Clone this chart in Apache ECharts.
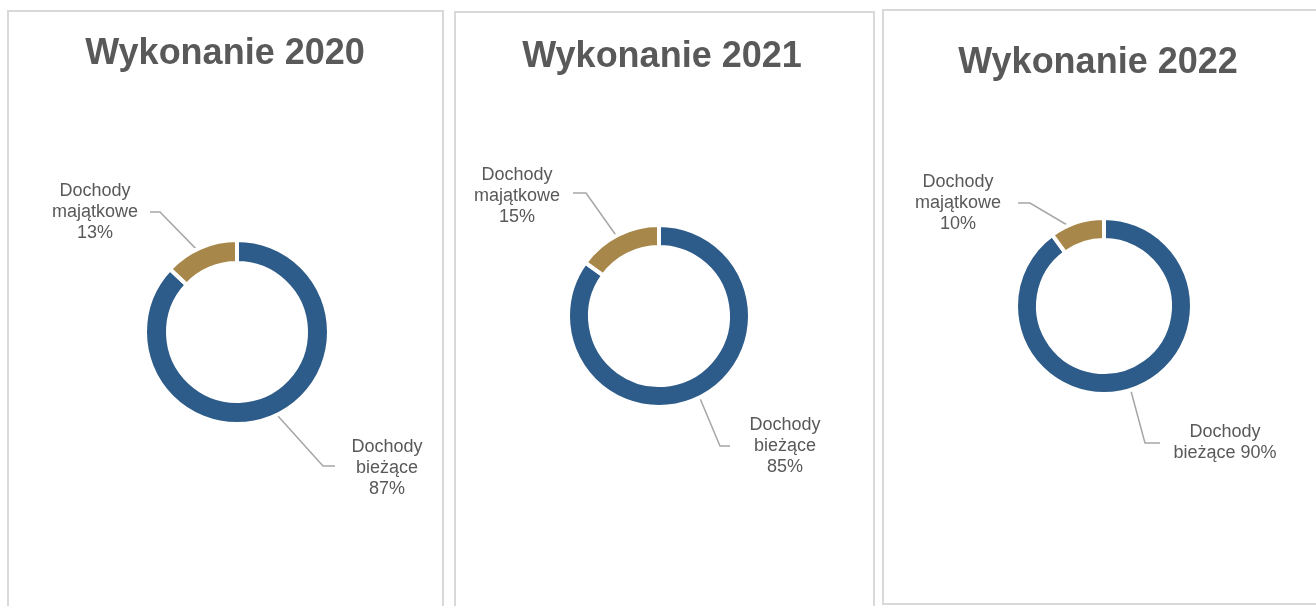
<!DOCTYPE html>
<html>
<head>
<meta charset="utf-8">
<script src="https://cdn.jsdelivr.net/npm/echarts@6/dist/echarts.min.js"></script>
<style>
  html, body { margin: 0; padding: 0; background: #fff; }
  #main { width: 1316px; height: 606px; }
</style>
</head>
<body>
<div id="main"></div>
<script>
// DANE
var years = ['2020', '2021', '2022'];
var categories = ['Dochody bieżące', 'Dochody majątkowe'];
var biezace = [87, 85, 90];
var majatkowe = [13, 15, 10];

var blue = '#2E5C8A';
var gold = '#A8874A';
var textColor = '#595959';

// uklad paneli (pozycje w px)
var panels = [
  { box: [8, 11, 435, 620], title: [225, 56], center: [237, 332], r: [71, 90], pctOwnLine: true,
    spots: [{ elbow: [86, 134], end: [98, 134], text: [150, 136] },
            { elbow: [-77, -120], end: [-87, -120], text: [-142, -120] }] },
  { box: [455, 12, 419, 620], title: [662, 59], center: [659, 316], r: [71, 89], pctOwnLine: true,
    spots: [{ elbow: [61, 130], end: [71, 130], text: [126, 130] },
            { elbow: [-73, -123], end: [-86, -123], text: [-142, -120] }] },
  { box: [883, 10, 460, 594], title: [1098, 65], center: [1104, 306], r: [68, 86], pctOwnLine: false,
    spots: [{ elbow: [41, 137], end: [56, 137], text: [121, 137] },
            { elbow: [-74, -103], end: [-86, -103], text: [-146, -103] }] }
];

var chart = echarts.init(document.getElementById('main'));

var titles = [];
var graphics = [];
var series = [];

panels.forEach(function (p, i) {
  graphics.push({
    type: 'rect',
    shape: { x: p.box[0], y: p.box[1], width: p.box[2], height: p.box[3] },
    style: { fill: 'none', stroke: '#D9D9D9', lineWidth: 2 },
    silent: true
  });
  titles.push({
    text: 'Wykonanie ' + years[i],
    left: p.title[0],
    top: p.title[1] - 20,
    textAlign: 'center',
    padding: 0,
    textStyle: { fontFamily: 'Liberation Sans, Arial', fontSize: 36, fontWeight: 'bold', color: textColor }
  });

  var vals = [biezace[i], majatkowe[i]];
  var total = vals[0] + vals[1];
  var rMid = (p.r[0] + p.r[1]) / 2;

  series.push({
    type: 'pie',
    center: p.center,
    radius: [p.r[0] - 2, p.r[1] + 2],
    startAngle: 90,
    clockwise: true,
    avoidLabelOverlap: false,
    silent: true,
    emphasis: { disabled: true },
    itemStyle: { borderColor: '#fff', borderWidth: 4 },
    data: vals.map(function (v, k) {
      return { name: categories[k], value: v, itemStyle: { color: k === 0 ? blue : gold } };
    }),
    label: {
      show: true,
      position: 'outside',
      fontFamily: 'Liberation Sans, Arial',
      fontSize: 18,
      lineHeight: 21,
      color: textColor,
      formatter: function (d) {
        var parts = d.name.split(' ');
        var sep = (p.pctOwnLine || d.dataIndex === 1) ? '\n' : ' ';
        return parts[0] + '\n' + parts[1] + sep + d.value + '%';
      }
    },
    labelLine: {
      show: true,
      lineStyle: { color: '#A6A6A6', width: 1.5 }
    },
    labelLayout: function (params) {
      var k = params.dataIndex;
      var s = p.spots[k];
      var before = k === 0 ? 0 : vals[0];
      var ang = (90 - (before + vals[k] / 2) / total * 360) * Math.PI / 180;
      var cx = p.center[0], cy = p.center[1];
      var start = [cx + rMid * Math.cos(ang), cy - rMid * Math.sin(ang)];
      return {
        x: cx + s.text[0],
        y: cy + s.text[1],
        align: 'center',
        verticalAlign: 'middle',
        labelLinePoints: [start, [cx + s.elbow[0], cy + s.elbow[1]], [cx + s.end[0], cy + s.end[1]]]
      };
    }
  });
});

chart.setOption({
  backgroundColor: '#fff',
  animation: false,
  title: titles,
  graphic: graphics,
  series: series
});
</script>
</body>
</html>
